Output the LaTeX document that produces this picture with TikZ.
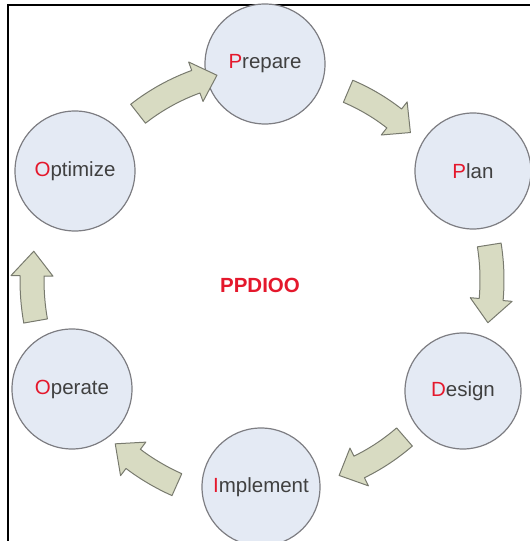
\documentclass[tikz,border=0pt]{standalone}
\usepackage{fontspec}
\setmainfont{Liberation Sans}
\usetikzlibrary{calc}
\definecolor{phasefill}{RGB}{228,234,244}
\definecolor{phaseline}{RGB}{125,125,130}
\definecolor{arrowfill}{RGB}{216,219,194}
\definecolor{arrowline}{RGB}{120,122,110}
\definecolor{phasered}{RGB}{228,24,44}
\definecolor{phasetext}{RGB}{64,64,64}

\begin{document}
\begin{tikzpicture}[x=1pt, y=1pt,
        phase/.style={circle, draw=phaseline, line width=1.2pt, fill=phasefill,
            minimum size=120pt, inner sep=0pt, text=phasetext,
            font=\fontsize{20.5}{24}\selectfont},
        cyclearrow/.style={draw=arrowline, line width=1pt, fill=arrowfill, line join=round}]
        \useasboundingbox (0,0) rectangle (530,541);
        \coordinate (C) at (268,261);

        % Frame.
        \draw[line width=2pt] (8.3,0) -- (8.3,535.5) -- (531,535.5);

        % Phases.
        \node[phase] (prepare) at (265,477) {{\color{phasered}P}repare};
        \node[phase, minimum size=116pt] (plan) at (473,370) {{\color{phasered}P}lan};
        \node[phase, minimum size=116pt] (design) at (463,150) {{\color{phasered}D}esign};
        \node[phase, minimum size=118pt] (implement) at (261,54) {{\color{phasered}I}mplement};
        \node[phase] (operate) at (72,152) {{\color{phasered}O}perate};
        \node[phase] (optimize) at (75,370) {{\color{phasered}O}ptimize};

        %PPDIOO
        \node[text=phasered, font=\bfseries\fontsize{20.5}{24}\selectfont] (ppdioo) at (260,256) {PPDIOO};

        % Arrows.
        \foreach \a/\b/\r in {128/104/211, 67/46/205, 9/-11/224, -49/-70/208, -114/-133/224, 190/173/236} {
            \pgfmathsetmacro{\h}{\b+6}
            \draw[cyclearrow, shift={(C)}] (\a:\r-12) arc[start angle=\a, end angle=\h, radius=\r-12]
                -- (\h:\r-21) -- (\b:\r) -- (\h:\r+21) -- (\h:\r+12)
                arc[start angle=\h, end angle=\a, radius=\r+12] -- cycle;
        }
\end{tikzpicture}
\end{document}
